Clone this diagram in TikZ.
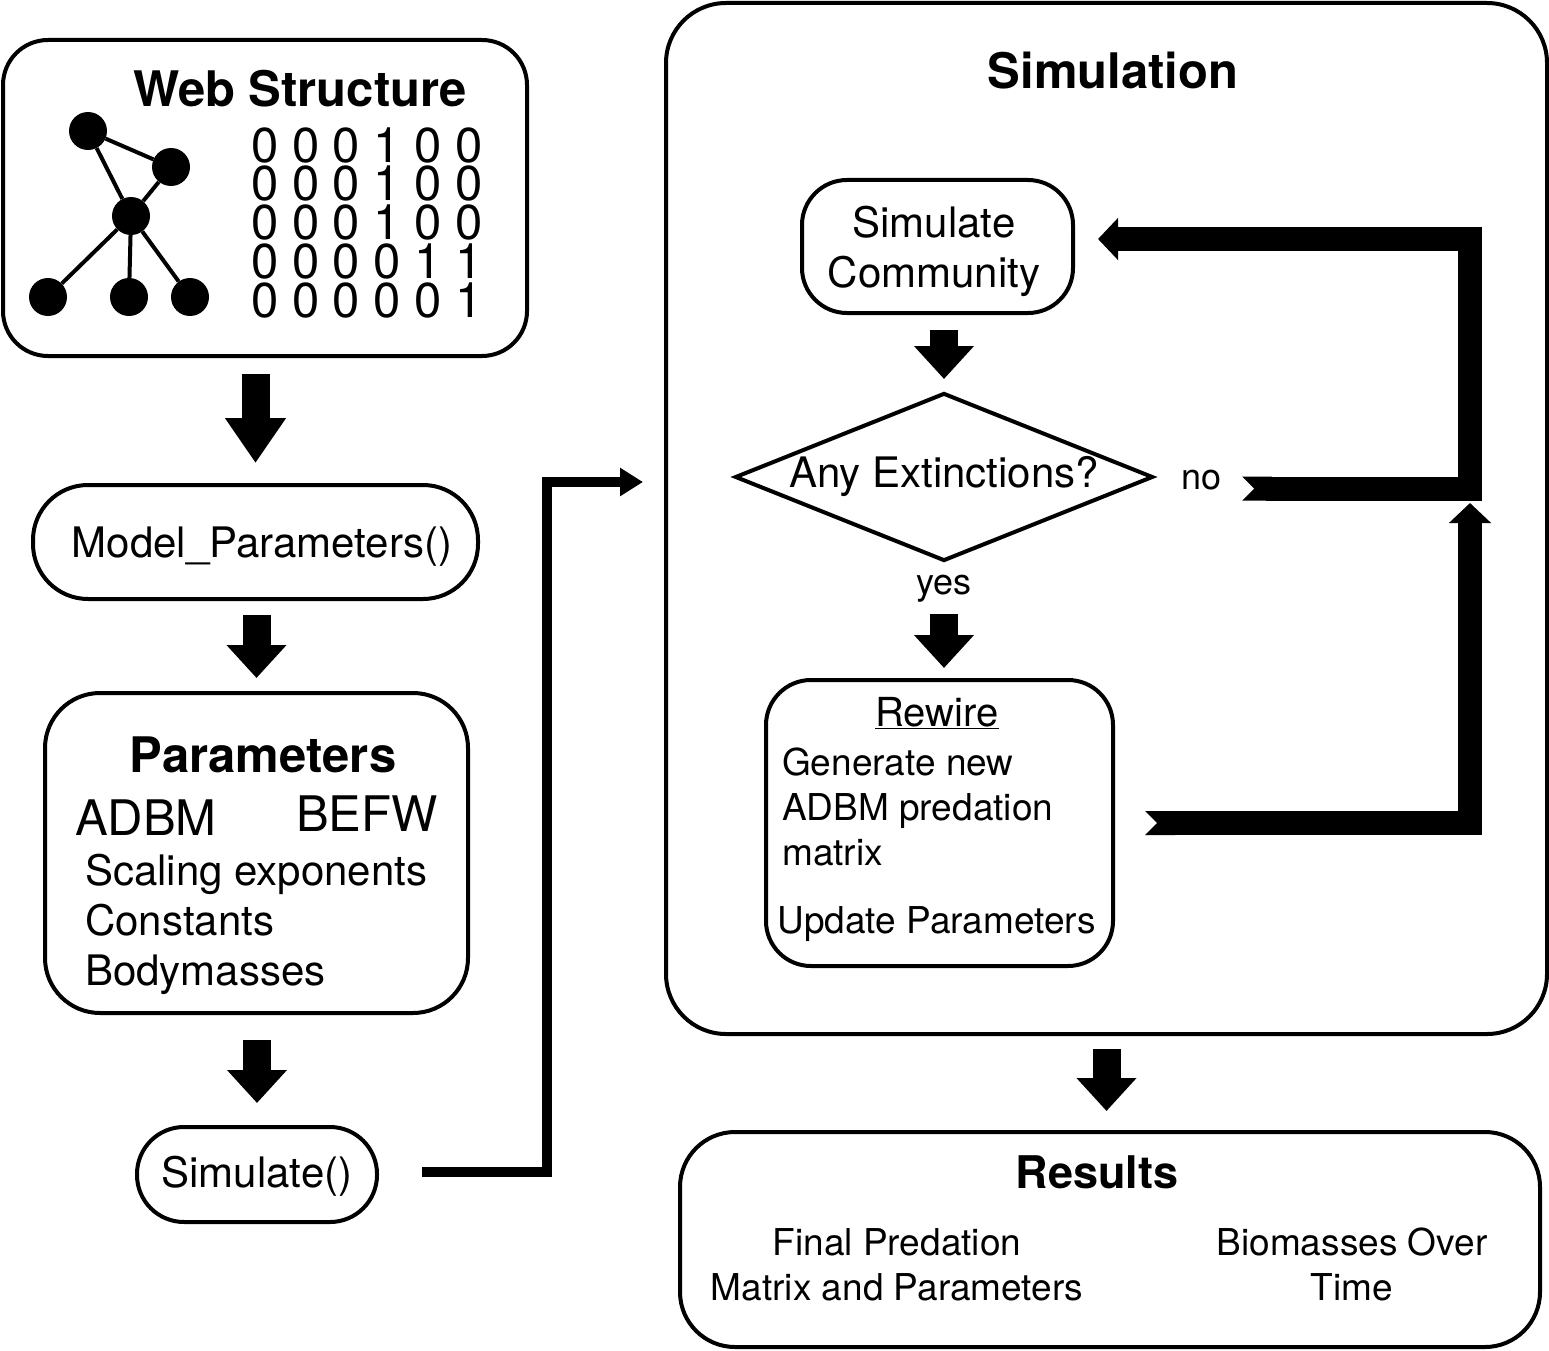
\documentclass[tikz,border=0pt]{standalone}
\usepackage{fontspec}
\setmainfont{TeX Gyre Heros}
\usetikzlibrary{arrows.meta,shapes.geometric}

\tikzset{
  panel/.style={draw, line width=4pt, rounded corners=#1, inner sep=0pt},
  panel/.default=45pt,
  body/.style={font=\fontsize{42}{50}\selectfont, inner sep=0pt, anchor=base},
  note/.style={font=\fontsize{37}{45}\selectfont, inner sep=0pt, anchor=base},
  title/.style={font=\fontsize{49}{58}\selectfont\bfseries, inner sep=0pt, anchor=base},
  blockarrow/.style={line width=28pt, -{Triangle[width=58pt,length=#1]}},
  blockarrow/.default=33pt,
  looparrow/.style={line width=24pt, line join=miter,
    {Triangle Cap[reversed]}-{Triangle[width=41pt,length=20pt]}},
  feed/.style={line width=10pt, line join=miter, -{Triangle[width=27pt,length=23pt]}},
  species/.style={circle, fill, inner sep=0pt, minimum size=38pt},
}

\begin{document}
\begin{tikzpicture}[x=1pt, y=-1pt]
\useasboundingbox (0,0) rectangle (1549,1351);

% left column
\node[panel, minimum width=524pt, minimum height=316pt] (web) at (265,198) {};
\node[title] (webtitle) at (300,107) {Web Structure};

\node[species] (s1) at (88,131) {};
\node[species] (s2) at (171,167) {};
\node[species] (s3) at (131,216) {};
\node[species] (s4) at (48,297) {};
\node[species] (s5) at (129,297) {};
\node[species] (s6) at (190,297) {};
\draw[line width=4pt] (s1) -- (s2);
\draw[line width=4pt] (s1) -- (s3);
\draw[line width=4pt] (s2) -- (s3);
\foreach \s in {s4,s5,s6}
  \draw[line width=4pt] (s3) -- (\s);

\node[inner sep=0pt, anchor=base west, align=left, font=\fontsize{49}{38.75}\selectfont] (adjacency) at (251,317)
  {0 0 0 1 0 0\\0 0 0 1 0 0\\0 0 0 1 0 0\\0 0 0 0 1 1\\0 0 0 0 0 1};

\node[panel=55pt, minimum width=445pt, minimum height=114pt] (model) at (255.5,542) {};
\node[body] (modeltext) at (262,557) {Model\_Parameters()};

\node[panel=55pt, minimum width=423pt, minimum height=320pt] (params) at (256.5,853) {};
\node[title] (paramtitle) at (263,772) {Parameters};
\node[body, anchor=base west, font=\fontsize{49}{58}\selectfont] (adbm) at (75,835) {ADBM};
\node[body, anchor=base west, font=\fontsize{49}{58}\selectfont] (befw) at (296,831) {BEFW};
\node[body, anchor=base west, align=left] (paramlist) at (85,985) {Scaling exponents\\Constants\\Bodymasses};

\node[panel=47pt, minimum width=240pt, minimum height=95pt] (simcall) at (257,1174.5) {};
\node[body] (simcalltext) at (257,1187) {Simulate()};

\draw[blockarrow=45pt, shorten <=16pt, shorten >=20pt] (model.north |- web.south) -- (model.north);
\draw[blockarrow, shorten <=14pt, shorten >=13pt] (params.north |- model.south) -- (params.north);
\draw[blockarrow, shorten <=25pt, shorten >=22pt] (simcall.north |- params.south) -- (simcall.north);

% simulation loop
\node[panel=60pt, minimum width=881pt, minimum height=1031pt] (simulation) at (1106.5,518.5) {};
\node[title] (simtitle) at (1113,89) {Simulation};

\node[panel, minimum width=271pt, minimum height=133pt] (community) at (937.5,246.5) {};
\node[body, align=center] (communitytext) at (934,287) {Simulate\\Community};

\node[diamond, draw, line width=4pt, aspect=2.5, inner sep=0pt,
  minimum width=418pt, minimum height=168pt, font=\fontsize{42}{50}\selectfont] (extinct) at (944,477) {Any Extinctions?};
\node[font=\fontsize{36}{43}\selectfont, inner sep=0pt, anchor=base] (no) at (1201,489) {no};
\node[font=\fontsize{36}{43}\selectfont, inner sep=0pt, anchor=base] (yes) at (944,594) {yes};

\node[panel, minimum width=347pt, minimum height=286pt] (rewire) at (939.5,823) {};
\node[note, font=\fontsize{40}{48}\selectfont] (rewiretitle) at (937,726) {\underline{Rewire}};
\node[note, anchor=base west, align=left] (rewiretext) at (782,865) {Generate new\\ADBM predation\\matrix};
\node[note, anchor=base west] (update) at (777,933) {Update Parameters};

\coordinate (loopR) at (1470,0);
\coordinate (loopUp) at (1470,503);
\coordinate (simIn) at (643,482);
\coordinate (jog) at (547,0);

\draw[blockarrow, shorten <=15pt, shorten >=12pt] (extinct.north |- community.south) -- (extinct.north);
\draw[blockarrow, shorten <=51pt, shorten >=10pt] (extinct.south) -- (extinct.south |- rewire.north);
\draw[looparrow, shorten <=21pt, shorten >=23pt] ([yshift=-9pt]no.east) -- ([yshift=-9pt]no.east -| loopR) |- ([yshift=7.5pt]community.east);
\draw[looparrow, shorten <=30pt] (rewire.east) -- (rewire.east -| loopR) -- (loopUp);
\draw[feed, shorten <=43pt] ([yshift=2.5pt]simcall.east) -- ([yshift=2.5pt]simcall.east -| jog) |- (simIn);

% results
\node[panel=55pt, minimum width=860pt, minimum height=215pt] (results) at (1110,1239.5) {};
\node[title, font=\fontsize{45}{54}\selectfont\bfseries] (resultstitle) at (1097,1188) {Results};
\node[note, align=center] (finalpred) at (897,1300) {Final Predation\\Matrix and Parameters};
\node[note, align=center] (biomass) at (1352,1300) {Biomasses Over\\Time};

\draw[blockarrow, shorten <=13pt, shorten >=19pt] (simulation.south) -- (simulation.south |- results.north);

\end{tikzpicture}
\end{document}
